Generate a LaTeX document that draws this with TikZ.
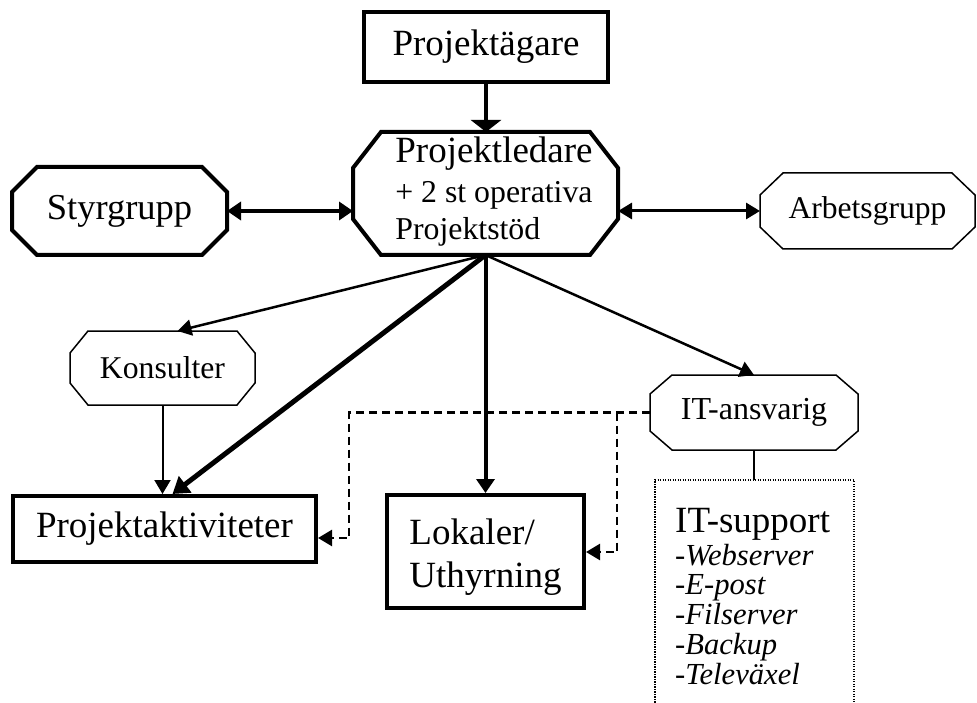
\documentclass[tikz,border=0pt]{standalone}
\usepackage{fontspec}
\setmainfont{Liberation Serif}
\usetikzlibrary{arrows.meta}
\newcommand\fsz[2]{\fontsize{#1}{#2}\selectfont}
\newcommand\octdraw[4]{%
  \draw[#1] ([xshift=#3]#2.north west) -- ([xshift=-#3]#2.north east)
    -- ([yshift=-#4]#2.north east) -- ([yshift=#4]#2.south east)
    -- ([xshift=-#3]#2.south east) -- ([xshift=#3]#2.south west)
    -- ([yshift=#4]#2.south west) -- ([yshift=-#4]#2.north west) -- cycle;}
\begin{document}
\begin{tikzpicture}[x=1pt,y=-1pt,
  shapebox/.style={inner sep=0pt, outer sep=0pt, align=center},
  rectbox/.style={draw, line width=4pt, inner sep=0pt, align=center},
  octthick/.style={line width=4pt, line join=miter},
  octthin/.style={line width=1.5pt, line join=miter},
  dashline/.style={line width=2.5pt, dash pattern=on 8pt off 5pt},
  dotline/.style={line width=2.5pt, dash pattern=on 1.3pt off 1.2pt},
  tipA/.style={-{Triangle[length=14pt,width=18pt]}},
  tipB/.style={{Triangle[length=14pt,width=18pt]}-{Triangle[length=14pt,width=18pt]}},
  tipC/.style={-{Triangle[length=14pt,width=16pt]}},
]
\useasboundingbox (0,0) rectangle (977,703);
\clip (0,0) rectangle (977,703);

% nodes
\node[rectbox, minimum width=244pt, minimum height=70pt, font=\fsz{37}{40}] (pa) at (486,47) {Projektägare};

\node[shapebox, minimum width=265pt, minimum height=123pt] (pl) at (485.5,193.5)
  {\fsz{31.8}{37}\begin{tabular}{@{\hspace{17pt}}l@{}}{\fsz{37}{37}Projektledare}\\[3pt] + 2 st operativa\\ Projektstöd\end{tabular}};
\octdraw{octthick}{pl}{28pt}{36pt}

\node[shapebox, minimum width=215pt, minimum height=88pt, font=\fsz{36.5}{40}] (sg) at (119.5,211) {Styrgrupp};
\octdraw{octthick}{sg}{25pt}{25pt}

\node[shapebox, minimum width=215pt, minimum height=76pt, font=\fsz{31.6}{36}] (ag) at (867.5,211) {Arbetsgrupp};
\octdraw{octthin}{ag}{23pt}{22pt}

\node[shapebox, minimum width=185pt, minimum height=74pt, font=\fsz{31.7}{36}] (ko) at (162.5,368) {Konsulter};
\octdraw{octthin}{ko}{18pt}{22pt}

\node[rectbox, minimum width=303pt, minimum height=66pt, font=\fsz{37}{40}] (pak) at (164.5,529) {Projektaktiviteter};

\node[rectbox, minimum width=197pt, minimum height=113pt] (lok) at (485.5,551.5)
  {\fsz{37}{43}\begin{tabular}{@{}l@{}}\rule{0pt}{42pt}Lokaler/\\ Uthyrning\end{tabular}};

\node[shapebox, minimum width=208pt, minimum height=75pt, font=\fsz{32}{36}] (ita) at (754,412.5) {IT-ansvarig};
\octdraw{octthin}{ita}{22pt}{19pt}

\node[shapebox, minimum width=199pt, minimum height=240pt] (its) at (754.5,600) {};
\draw[dotline] (its.south west) -- (its.north west) -- (its.north east) -- (its.south east);
\node[anchor=base west, inner sep=0pt] (itslist) at (675,532)
  {\fsz{30.6}{29}\begin{tabular}[t]{@{}l@{}}{\fsz{37}{37}IT-support}\\[4pt]
   -\textit{Webserver}\\ -\textit{E-post}\\ -\textit{Filserver}\\ -\textit{Backup}\\ -\textit{Televäxel}\end{tabular}};

% connectors
\draw[line width=4pt, -{Triangle[length=12pt,width=30pt]}] (pa.south) -- (pa.south |- pl.north);
\draw[line width=4pt, tipB] (sg.east) -- (sg.east -| pl.west);
\draw[line width=3pt, {Triangle[length=14pt,width=16pt]}-{Triangle[length=14pt,width=16pt]}] (ag.west -| pl.east) -- (ag.west);
\draw[line width=2.5pt, tipC] (pl.south) -- ([xshift=15pt]ko.north);
\draw[line width=5pt, -{Triangle[length=16pt,width=20pt]}] (pl.south) -- ([xshift=8pt]pak.north);
\draw[line width=2pt, tipC] (ko.south) -- (ko.south |- pak.north);
\draw[line width=4pt, tipA] (pl.south) -- (pl.south |- lok.north);
\draw[line width=2.5pt, tipC] (pl.south) -- (ita.north);
\draw[line width=1.5pt] (ita.south) -- (ita.south |- its.north);

\coordinate (dA) at (349,538);
\coordinate (dB) at (617,552);
\draw[dashline, tipC] (ita.west) -| (dA) -- (dA -| pak.east);
\draw[dashline, tipC] (dB |- ita.west) -- (dB) -- (dB -| lok.east);
\end{tikzpicture}
\end{document}
